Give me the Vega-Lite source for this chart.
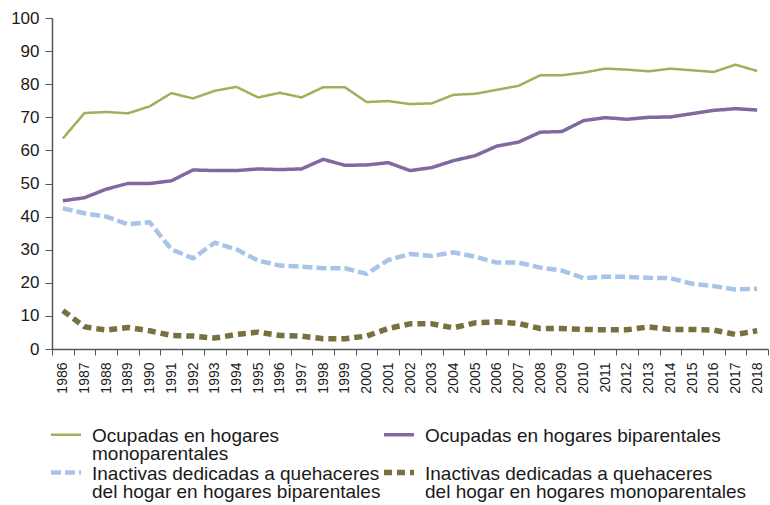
{
  "$schema": "https://vega.github.io/schema/vega-lite/v6.json",
  "width": 716,
  "height": 331,
  "autosize": {"type": "none"},
  "padding": {"left": 52, "top": 18, "right": 2, "bottom": 156},
  "background": "white",
  "config": {
    "view": {"stroke": null},
    "font": "Liberation Sans",
    "axis": {"labelFont": "Liberation Sans", "labelColor": "#1a1a1a", "domainColor": "#555555", "tickColor": "#555555", "grid": false}
  },
  "data": {
    "values": [
      {"year": "1986", "serie": "om", "value": 63.6},
      {"year": "1987", "serie": "om", "value": 71.3},
      {"year": "1988", "serie": "om", "value": 71.6},
      {"year": "1989", "serie": "om", "value": 71.2},
      {"year": "1990", "serie": "om", "value": 73.3},
      {"year": "1991", "serie": "om", "value": 77.3},
      {"year": "1992", "serie": "om", "value": 75.7},
      {"year": "1993", "serie": "om", "value": 78.0},
      {"year": "1994", "serie": "om", "value": 79.2},
      {"year": "1995", "serie": "om", "value": 76.0},
      {"year": "1996", "serie": "om", "value": 77.4},
      {"year": "1997", "serie": "om", "value": 76.0},
      {"year": "1998", "serie": "om", "value": 79.1},
      {"year": "1999", "serie": "om", "value": 79.1},
      {"year": "2000", "serie": "om", "value": 74.6},
      {"year": "2001", "serie": "om", "value": 74.9},
      {"year": "2002", "serie": "om", "value": 74.0},
      {"year": "2003", "serie": "om", "value": 74.2},
      {"year": "2004", "serie": "om", "value": 76.8},
      {"year": "2005", "serie": "om", "value": 77.1},
      {"year": "2006", "serie": "om", "value": 78.3},
      {"year": "2007", "serie": "om", "value": 79.5},
      {"year": "2008", "serie": "om", "value": 82.7},
      {"year": "2009", "serie": "om", "value": 82.7},
      {"year": "2010", "serie": "om", "value": 83.5},
      {"year": "2011", "serie": "om", "value": 84.7},
      {"year": "2012", "serie": "om", "value": 84.4},
      {"year": "2013", "serie": "om", "value": 83.9},
      {"year": "2014", "serie": "om", "value": 84.7},
      {"year": "2015", "serie": "om", "value": 84.2},
      {"year": "2016", "serie": "om", "value": 83.7},
      {"year": "2017", "serie": "om", "value": 85.9},
      {"year": "2018", "serie": "om", "value": 84.0},
      {"year": "1986", "serie": "ob", "value": 44.8},
      {"year": "1987", "serie": "ob", "value": 45.7},
      {"year": "1988", "serie": "ob", "value": 48.3},
      {"year": "1989", "serie": "ob", "value": 50.0},
      {"year": "1990", "serie": "ob", "value": 50.0},
      {"year": "1991", "serie": "ob", "value": 50.8},
      {"year": "1992", "serie": "ob", "value": 54.1},
      {"year": "1993", "serie": "ob", "value": 53.9},
      {"year": "1994", "serie": "ob", "value": 53.9},
      {"year": "1995", "serie": "ob", "value": 54.4},
      {"year": "1996", "serie": "ob", "value": 54.2},
      {"year": "1997", "serie": "ob", "value": 54.4},
      {"year": "1998", "serie": "ob", "value": 57.3},
      {"year": "1999", "serie": "ob", "value": 55.5},
      {"year": "2000", "serie": "ob", "value": 55.6},
      {"year": "2001", "serie": "ob", "value": 56.3},
      {"year": "2002", "serie": "ob", "value": 53.9},
      {"year": "2003", "serie": "ob", "value": 54.8},
      {"year": "2004", "serie": "ob", "value": 56.9},
      {"year": "2005", "serie": "ob", "value": 58.4},
      {"year": "2006", "serie": "ob", "value": 61.3},
      {"year": "2007", "serie": "ob", "value": 62.5},
      {"year": "2008", "serie": "ob", "value": 65.5},
      {"year": "2009", "serie": "ob", "value": 65.7},
      {"year": "2010", "serie": "ob", "value": 69.0},
      {"year": "2011", "serie": "ob", "value": 69.9},
      {"year": "2012", "serie": "ob", "value": 69.4},
      {"year": "2013", "serie": "ob", "value": 70.0},
      {"year": "2014", "serie": "ob", "value": 70.1},
      {"year": "2015", "serie": "ob", "value": 71.1},
      {"year": "2016", "serie": "ob", "value": 72.1},
      {"year": "2017", "serie": "ob", "value": 72.6},
      {"year": "2018", "serie": "ob", "value": 72.2},
      {"year": "1986", "serie": "ib", "value": 42.5},
      {"year": "1987", "serie": "ib", "value": 41.0},
      {"year": "1988", "serie": "ib", "value": 40.0},
      {"year": "1989", "serie": "ib", "value": 37.7},
      {"year": "1990", "serie": "ib", "value": 38.3},
      {"year": "1991", "serie": "ib", "value": 30.1},
      {"year": "1992", "serie": "ib", "value": 27.4},
      {"year": "1993", "serie": "ib", "value": 32.1},
      {"year": "1994", "serie": "ib", "value": 30.1},
      {"year": "1995", "serie": "ib", "value": 26.7},
      {"year": "1996", "serie": "ib", "value": 25.2},
      {"year": "1997", "serie": "ib", "value": 24.9},
      {"year": "1998", "serie": "ib", "value": 24.4},
      {"year": "1999", "serie": "ib", "value": 24.4},
      {"year": "2000", "serie": "ib", "value": 22.7},
      {"year": "2001", "serie": "ib", "value": 26.9},
      {"year": "2002", "serie": "ib", "value": 28.7},
      {"year": "2003", "serie": "ib", "value": 28.1},
      {"year": "2004", "serie": "ib", "value": 29.2},
      {"year": "2005", "serie": "ib", "value": 27.9},
      {"year": "2006", "serie": "ib", "value": 26.1},
      {"year": "2007", "serie": "ib", "value": 26.1},
      {"year": "2008", "serie": "ib", "value": 24.6},
      {"year": "2009", "serie": "ib", "value": 23.7},
      {"year": "2010", "serie": "ib", "value": 21.4},
      {"year": "2011", "serie": "ib", "value": 21.8},
      {"year": "2012", "serie": "ib", "value": 21.8},
      {"year": "2013", "serie": "ib", "value": 21.5},
      {"year": "2014", "serie": "ib", "value": 21.4},
      {"year": "2015", "serie": "ib", "value": 19.7},
      {"year": "2016", "serie": "ib", "value": 19.0},
      {"year": "2017", "serie": "ib", "value": 18.0},
      {"year": "2018", "serie": "ib", "value": 18.2},
      {"year": "1986", "serie": "im", "value": 11.6},
      {"year": "1987", "serie": "im", "value": 6.7},
      {"year": "1988", "serie": "im", "value": 5.7},
      {"year": "1989", "serie": "im", "value": 6.5},
      {"year": "1990", "serie": "im", "value": 5.5},
      {"year": "1991", "serie": "im", "value": 4.1},
      {"year": "1992", "serie": "im", "value": 3.9},
      {"year": "1993", "serie": "im", "value": 3.3},
      {"year": "1994", "serie": "im", "value": 4.4},
      {"year": "1995", "serie": "im", "value": 5.1},
      {"year": "1996", "serie": "im", "value": 4.1},
      {"year": "1997", "serie": "im", "value": 3.9},
      {"year": "1998", "serie": "im", "value": 3.1},
      {"year": "1999", "serie": "im", "value": 3.1},
      {"year": "2000", "serie": "im", "value": 3.9},
      {"year": "2001", "serie": "im", "value": 6.2},
      {"year": "2002", "serie": "im", "value": 7.6},
      {"year": "2003", "serie": "im", "value": 7.6},
      {"year": "2004", "serie": "im", "value": 6.4},
      {"year": "2005", "serie": "im", "value": 7.9},
      {"year": "2006", "serie": "im", "value": 8.2},
      {"year": "2007", "serie": "im", "value": 7.7},
      {"year": "2008", "serie": "im", "value": 6.2},
      {"year": "2009", "serie": "im", "value": 6.2},
      {"year": "2010", "serie": "im", "value": 5.9},
      {"year": "2011", "serie": "im", "value": 5.8},
      {"year": "2012", "serie": "im", "value": 5.8},
      {"year": "2013", "serie": "im", "value": 6.7},
      {"year": "2014", "serie": "im", "value": 5.9},
      {"year": "2015", "serie": "im", "value": 5.9},
      {"year": "2016", "serie": "im", "value": 5.7},
      {"year": "2017", "serie": "im", "value": 4.4},
      {"year": "2018", "serie": "im", "value": 5.5}
    ]
  },
  "mark": {"type": "line", "strokeCap": "butt", "strokeJoin": "round"},
  "encoding": {
    "x": {
      "field": "year",
      "type": "ordinal",
      "bandPosition": 0.5,
      "scale": {"type": "band", "paddingInner": 0, "paddingOuter": 0},
      "axis": {"title": null, "labelAngle": -90, "labelFontSize": 14, "tickBand": "extent", "tickSize": 6, "labelPadding": 7, "domainWidth": 1.5}
    },
    "y": {
      "field": "value",
      "type": "quantitative",
      "scale": {"domain": [0, 100]},
      "axis": {"title": null, "values": [0,10,20,30,40,50,60,70,80,90,100], "labelFontSize": 17, "tickSize": 7, "labelPadding": 6, "domainWidth": 1.5}
    },
    "color": {
      "field": "serie",
      "type": "nominal",
      "scale": {"domain": ["om", "ob", "ib", "im"], "range": ["#a4ad5b", "#8068a1", "#a9c4e9", "#77713f"]},
      "legend": {
        "title": null,
        "orient": "none",
        "direction": "horizontal",
        "legendX": -4,
        "legendY": 408.5,
        "columns": 2,
        "columnPadding": -9,
        "rowPadding": -7,
        "symbolType": "stroke",
        "symbolSize": 900,
        "labelFontSize": 19,
        "labelOffset": 8,
        "labelLimit": 400,
        "labelBaseline": "top",
        "labelColor": "#1a1a1a",
        "encode": {
          "symbols": {"update": {"y": {"value": 8}}},
          "labels": {"update": {"y": {"value": 0}, "dy": {"value": 0}, "lineHeight": {"value": 18.5}}}
        },
        "labelExpr": "datum.value == 'om' ? ['Ocupadas en hogares', 'monoparentales'] : datum.value == 'ob' ? ['Ocupadas en hogares biparentales', ''] : datum.value == 'ib' ? ['Inactivas dedicadas a quehaceres', 'del hogar en hogares biparentales'] : ['Inactivas dedicadas a quehaceres', 'del hogar en hogares monoparentales']"
      }
    },
    "strokeDash": {
      "field": "serie",
      "type": "nominal",
      "scale": {"domain": ["om", "ob", "ib", "im"], "range": [[1, 0], [1, 0], [10, 4], [8, 5]]},
      "legend": null
    },
    "strokeWidth": {
      "field": "serie",
      "type": "nominal",
      "scale": {"domain": ["om", "ob", "ib", "im"], "range": [2.5, 5.5, 5, 4]},
      "legend": null
    }
  }
}
